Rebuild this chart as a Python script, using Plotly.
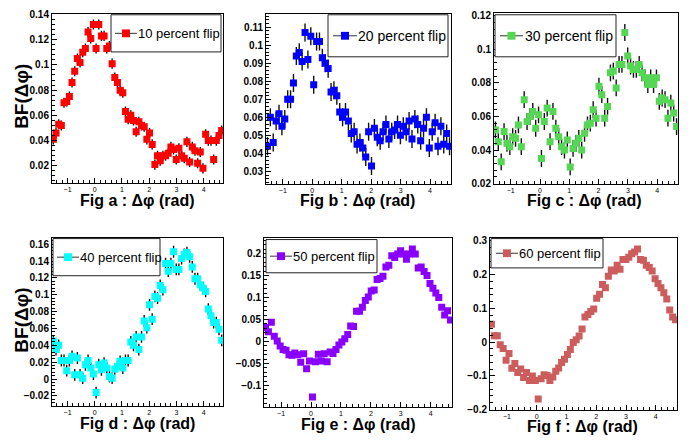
import numpy as np
import plotly.graph_objects as go

# ---------------- data ----------------
N_BINS = 64
PHI_LO, PHI_HI = -np.pi / 2, 3 * np.pi / 2
dphi = PHI_LO + (np.arange(N_BINS) + 0.5) * (PHI_HI - PHI_LO) / N_BINS

bf_10 = [0.041, 0.046, 0.053, 0.052, 0.070, 0.071, 0.075, 0.086, 0.095, 0.105, 0.102, 0.110, 0.113, 0.126, 0.121, 0.132,
         0.113, 0.132, 0.123, 0.123, 0.113, 0.115, 0.101, 0.090, 0.086, 0.080, 0.078, 0.063, 0.057, 0.060, 0.056, 0.047,
         0.055, 0.052, 0.051, 0.041, 0.046, 0.037, 0.021, 0.028, 0.024, 0.028, 0.028, 0.030, 0.035, 0.033, 0.025, 0.034,
         0.028, 0.026, 0.039, 0.023, 0.035, 0.032, 0.022, 0.031, 0.018, 0.045, 0.040, 0.040, 0.025, 0.040, 0.044, 0.048]
bf_20 = [0.044, 0.060, 0.046, 0.058, 0.062, 0.055, 0.059, 0.070, 0.070, 0.079, 0.094, 0.096, 0.091, 0.107, 0.092, 0.105,
         0.078, 0.102, 0.102, 0.093, 0.090, 0.087, 0.074, 0.075, 0.072, 0.063, 0.060, 0.063, 0.058, 0.051, 0.052, 0.045,
         0.046, 0.043, 0.038, 0.052, 0.033, 0.054, 0.049, 0.047, 0.052, 0.056, 0.048, 0.052, 0.053, 0.056, 0.050, 0.055,
         0.052, 0.058, 0.048, 0.059, 0.056, 0.047, 0.054, 0.060, 0.043, 0.052, 0.057, 0.044, 0.055, 0.045, 0.051, 0.044]
bf_30 = [0.052, 0.045, 0.033, 0.051, 0.044, 0.042, 0.048, 0.047, 0.055, 0.042, 0.070, 0.057, 0.060, 0.063, 0.053, 0.061,
         0.035, 0.057, 0.065, 0.045, 0.063, 0.053, 0.048, 0.042, 0.040, 0.046, 0.030, 0.041, 0.044, 0.047, 0.040, 0.050,
         0.055, 0.056, 0.064, 0.059, 0.078, 0.073, 0.059, 0.066, 0.086, 0.087, 0.077, 0.091, 0.091, 0.110, 0.096, 0.090,
         0.088, 0.088, 0.091, 0.086, 0.083, 0.079, 0.083, 0.079, 0.083, 0.069, 0.071, 0.070, 0.059, 0.068, 0.062, 0.054]
bf_40 = [0.045, 0.035, 0.040, 0.022, 0.022, 0.010, 0.022, 0.027, 0.005, 0.025, 0.005, 0.001, 0.017, 0.022, 0.013, 0.006,
         -0.016, 0.017, 0.011, 0.019, 0.013, 0.003, 0.001, 0.012, 0.015, 0.021, 0.013, 0.022, 0.022, 0.044, 0.040, 0.050,
         0.035, 0.050, 0.069, 0.061, 0.088, 0.071, 0.098, 0.096, 0.111, 0.106, 0.137, 0.128, 0.137, 0.151, 0.130, 0.130,
         0.143, 0.148, 0.150, 0.145, 0.133, 0.119, 0.119, 0.112, 0.108, 0.104, 0.083, 0.075, 0.067, 0.067, 0.059, 0.046]
bf_50 = [0.032, 0.022, 0.044, 0.012, 0.001, -0.010, -0.018, -0.020, -0.030, -0.031, -0.026, -0.030, -0.047, -0.028, -0.062, -0.044,
         -0.126, -0.046, -0.029, -0.044, -0.028, -0.046, -0.024, -0.027, -0.018, -0.008, -0.001, 0.006, 0.016, 0.035, 0.034, 0.069,
         0.069, 0.078, 0.093, 0.101, 0.115, 0.117, 0.141, 0.143, 0.148, 0.169, 0.173, 0.195, 0.191, 0.199, 0.206, 0.199,
         0.187, 0.199, 0.210, 0.199, 0.167, 0.169, 0.159, 0.150, 0.132, 0.121, 0.110, 0.100, 0.078, 0.060, 0.070, 0.049]
bf_60 = [0.053, 0.019, 0.019, -0.008, -0.019, -0.054, -0.034, -0.078, -0.064, -0.090, -0.080, -0.105, -0.090, -0.114, -0.101, -0.114,
         -0.169, -0.109, -0.097, -0.099, -0.114, -0.104, -0.087, -0.077, -0.061, -0.051, -0.037, -0.022, -0.001, 0.007, 0.018, 0.039,
         0.074, 0.082, 0.091, 0.098, 0.130, 0.142, 0.171, 0.161, 0.195, 0.214, 0.211, 0.228, 0.216, 0.245, 0.245, 0.252,
         0.262, 0.267, 0.276, 0.245, 0.243, 0.228, 0.221, 0.211, 0.188, 0.174, 0.161, 0.146, 0.128, 0.095, 0.074, 0.066]

err_10 = [0.004] * N_BINS
err_20 = [0.005] * N_BINS
err_30 = [0.005] * N_BINS
err_40 = [0.007] * N_BINS
err_50 = [0.006] * N_BINS
err_60 = [0.006] * N_BINS

legend_labels = ["10 percent flip", "20 percent flip", "30 percent flip",
                 "40 percent flip", "50 percent flip", "60 percent flip"]
x_titles = ["Fig a : Δφ (rad)", "Fig b : Δφ (rad)", "Fig c : Δφ (rad)",
            "Fig d : Δφ (rad)", "Fig e : Δφ (rad)", "Fig f : Δφ (rad)"]
y_title = "BF(Δφ)"
x_tickvals = [-1, 0, 1, 2, 3, 4]

series = [bf_10, bf_20, bf_30, bf_40, bf_50, bf_60]
errors = [err_10, err_20, err_30, err_40, err_50, err_60]

# ---------------- styling / layout ----------------
W, H = 688, 441
colors = ["#ff0000", "#0000ff", "#55d655", "#00ffff", "#8a00ff", "#cd5c5c"]
# frame boxes in pixels: left, right, top, bottom
boxes = [(52, 223, 9, 182), (266, 451, 9, 183), (494, 678, 8, 183),
         (52, 223, 238, 410), (264, 452, 238, 411), (490, 677, 238, 414)]
y_ranges = [(0.0065, 0.1405), (0.0231, 0.1174), (0.0199, 0.1217),
            (-0.0316, 0.1678), (-0.148, 0.236), (-0.2005, 0.31)]
y_major = [0.02, 0.01, 0.02, 0.02, 0.05, 0.1]
# legend boxes: left, right, top, bottom, line x0, line x1, text x, font
leg = [(111, 221, 10, 48, 115, 137, 137, 13),
       (328, 448, 10, 53, 333, 357, 357, 14),
       (495, 616, 10, 53, 500, 523, 524, 14),
       (53, 160, 239, 277, 57, 79, 79, 13),
       (266, 377, 240, 274, 270, 292, 292, 13),
       (491, 603, 239, 269, 496, 518, 518, 13)]
title_pos = [(137, 200), (357, 200), (584, 200), (137, 428), (358, 429), (582, 431)]

FONT = "Liberation Sans"
px = lambda v: v / W
py = lambda v: 1 - v / H

fig = go.Figure()
shapes, annotations = [], []

for k in range(6):
    n = k + 1
    xa, ya = ("x" if n == 1 else f"x{n}"), ("y" if n == 1 else f"y{n}")
    fig.add_trace(go.Scatter(
        x=dphi, y=series[k], xaxis=xa, yaxis=ya, mode="markers",
        marker=dict(symbol="square", size=7, color=colors[k], line=dict(width=0)),
        error_y=dict(type="data", array=errors[k], visible=True, color="#111111", thickness=1.4, width=0),
        showlegend=False, hoverinfo="x+y"))
    l, r, t, b = boxes[k]
    axis_common = dict(showline=True, mirror=True, linecolor="black", linewidth=1,
                       showgrid=False, zeroline=False, ticks="inside", tickcolor="black")
    fig.layout[f"xaxis{'' if n == 1 else n}"] = dict(
        domain=[px(l), px(r)], anchor=ya, range=[PHI_LO, PHI_HI],
        tickmode="array", tickvals=x_tickvals, ticklen=5,
        tickfont=dict(family=FONT, size=7, color="black"),
        minor=dict(ticks="inside", ticklen=3, dtick=0.2, tick0=0, tickcolor="black"),
        **axis_common)
    fig.layout[f"yaxis{'' if n == 1 else n}"] = dict(
        domain=[py(b), py(t)], anchor=xa, range=list(y_ranges[k]),
        dtick=y_major[k], tick0=0, tickformat=".2~f", ticklen=5,
        tickfont=dict(family=FONT, size=10, color="black", weight="bold"),
        minor=dict(ticks="inside", ticklen=3, dtick=y_major[k] / 5, tick0=0, tickcolor="black"),
        **axis_common)

    # legend box
    L, R, T, B, lx0, lx1, tx, fs = leg[k]
    cy = (T + B) / 2
    shapes.append(dict(type="rect", xref="paper", yref="paper", x0=px(L), x1=px(R), y0=py(B), y1=py(T),
                       line=dict(color="#222222", width=1), fillcolor="white", layer="above"))
    shapes.append(dict(type="line", xref="paper", yref="paper", x0=px(lx0), x1=px(lx1), y0=py(cy), y1=py(cy),
                       line=dict(color="#333333", width=1), layer="above"))
    mx = (lx0 + lx1) / 2
    shapes.append(dict(type="rect", xref="paper", yref="paper", x0=px(mx - 4), x1=px(mx + 4),
                       y0=py(cy + 4), y1=py(cy - 4), line=dict(width=0), fillcolor=colors[k], layer="above"))
    annotations.append(dict(xref="paper", yref="paper", x=px(tx), y=py(cy), xanchor="left", yanchor="middle",
                            text=legend_labels[k], showarrow=False, borderpad=0,
                            font=dict(family=FONT, size=fs, color="black")))
    # x title
    annotations.append(dict(xref="paper", yref="paper", x=px(title_pos[k][0]), y=py(title_pos[k][1]),
                            xanchor="center", yanchor="middle", text=x_titles[k], showarrow=False, borderpad=0,
                            font=dict(family=FONT, size=16, color="black", weight="bold")))

for cy in (94, 323):
    annotations.append(dict(xref="paper", yref="paper", x=px(22), y=py(cy), xanchor="center", yanchor="middle",
                            text=y_title, textangle=-90, showarrow=False, borderpad=0,
                            font=dict(family=FONT, size=19, color="black", weight="bold")))

fig.update_layout(width=W, height=H, margin=dict(l=0, r=0, t=0, b=0),
                  paper_bgcolor="white", plot_bgcolor="white",
                  shapes=shapes, annotations=annotations, showlegend=False)
fig.write_html("out.html")
